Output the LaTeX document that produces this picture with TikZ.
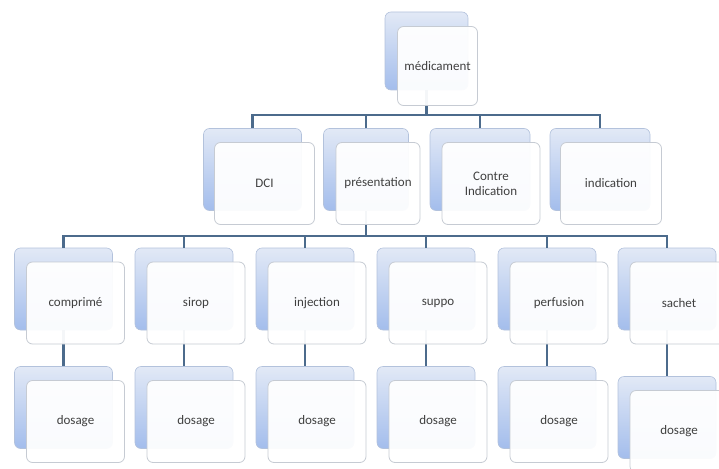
\documentclass[tikz,border=0pt]{standalone}
\usepackage{fontspec}
\setmainfont{Carlito}
\usepackage{tikz}
\usetikzlibrary{calc}
\definecolor{cardtop}{HTML}{E2E9F6}
\definecolor{cardbot}{HTML}{A3BDEC}
\definecolor{cardedge}{HTML}{B3C2DC}
\definecolor{cardline}{HTML}{C6CBD3}
\definecolor{linkblue}{HTML}{4C6B8C}
\definecolor{txt}{HTML}{404040}

\begin{document}
\begin{tikzpicture}[x=1pt,y=-1pt]
    \tikzset{back/.style={draw=cardedge, line width=0.6pt, top color=cardtop, bottom color=cardbot, rounded corners=6pt, minimum width=98pt, minimum height=82pt, inner sep=0pt},
    front/.style={draw=cardline, line width=0.8pt, fill=white, fill opacity=0.94, text opacity=1, rounded corners=6pt, minimum width=98pt, minimum height=82pt, inner sep=2pt, text=txt, font=\fontsize{13}{15}\selectfont, align=center},
    link/.style={draw=linkblue, line width=2.3pt}}
    
    \useasboundingbox (0,0) rectangle (719,468);
    
    \coordinate (med_c) at (426.5,51);
    \coordinate (dci_c) at (252.5,169.5);
    \coordinate (pre_c) at (366,169.5);
    \coordinate (ci_c) at (480,169.5);
    \coordinate (ind_c) at (600,169.5);
    \coordinate (com_c) at (63.5,289);
    \coordinate (sir_c) at (184,289);
    \coordinate (inj_c) at (305,289);
    \coordinate (sup_c) at (426,289);
    \coordinate (per_c) at (547,289);
    \coordinate (sac_c) at (667,289);
    \coordinate (bus_a) at (426.5,115);
    \coordinate (bus_b) at (366,236);
    
    %back cards
    \node[back,minimum width=83pt,minimum height=78pt] (med_b) at (med_c){};
    
    \node[back] (dci_b) at (dci_c){};
    \node[back,minimum width=85pt] (pre_b) at (pre_c){};
    \node[back,minimum width=100pt] (ci_b) at (ci_c){};
    \node[back,minimum width=100pt] (ind_b) at (ind_c){};
    
    \node[back] (com_b) at (com_c){};
    \node[back] (sir_b) at (sir_c){};
    \node[back] (inj_b) at (inj_c){};
    \node[back] (sup_b) at (sup_c){};
    \node[back] (per_b) at (per_c){};
    \node[back] (sac_b) at (sac_c){};
    
    \node[back] (dos1_b) at ($(com_c)+(0,118.5)$){};
    \node[back] (dos2_b) at ($(sir_c)+(0,118.5)$){};
    \node[back] (dos3_b) at ($(inj_c)+(0,118.5)$){};
    \node[back] (dos4_b) at ($(sup_c)+(0,118.5)$){};
    \node[back] (dos5_b) at ($(per_c)+(0,118.5)$){};
    \node[back] (dos6_b) at ($(sac_c)+(0,128.5)$){};
    
    %links
    \draw[link] (med_b.south) -- (bus_a);
    \draw[link] (dci_b.north) |- (bus_a) -| (ind_b.north);
    \draw[link] (pre_b.north) -- (pre_b.north |- bus_a);
    \draw[link] (ci_b.north) -- (ci_b.north |- bus_a);
    
    \draw[link] (pre_b.south) -- (bus_b);
    \draw[link] (com_b.north) |- (bus_b) -| (sac_b.north);
    \draw[link] (sir_b.north) -- (sir_b.north |- bus_b);
    \draw[link] (inj_b.north) -- (inj_b.north |- bus_b);
    \draw[link] (sup_b.north) -- (sup_b.north |- bus_b);
    \draw[link] (per_b.north) -- (per_b.north |- bus_b);
    
    \draw[link] (com_b.south) -- (dos1_b.north);
    \draw[link] (sir_b.south) -- (dos2_b.north);
    \draw[link] (inj_b.south) -- (dos3_b.north);
    \draw[link] (sup_b.south) -- (dos4_b.north);
    \draw[link] (per_b.south) -- (dos5_b.north);
    \draw[link] (sac_b.south) -- (dos6_b.north);
    
    %front cards
    \node[front,minimum width=80pt,minimum height=79pt] (med) at ($(med_c)+(11,15)$){médicament};
    
    \node[front,minimum width=100pt] (dci) at ($(dci_c)+(12,14)$){DCI};
    \node[front,minimum width=84pt] (pre) at ($(pre_c)+(12,14)$){présentation};
    \node[front,minimum width=98pt] (ci) at ($(ci_c)+(11,14)$){Contre\\Indication};
    \node[front,minimum width=101pt] (ind) at ($(ind_c)+(11,14)$){indication};
    
    \node[front] (com) at ($(com_c)+(12,14)$){comprimé};
    \node[front] (sir) at ($(sir_c)+(12,14)$){sirop};
    \node[front] (inj) at ($(inj_c)+(12,14)$){injection};
    \node[front] (sup) at ($(sup_c)+(12,14)$){suppo};
    \node[front] (per) at ($(per_c)+(12,14)$){perfusion};
    \node[front] (sac) at ($(sac_c)+(12,14)$){sachet};
    
    \node[front] (dos1) at ($(com_c)+(12,132.5)$){dosage};
    \node[front] (dos2) at ($(sir_c)+(12,132.5)$){dosage};
    \node[front] (dos3) at ($(inj_c)+(12,132.5)$){dosage};
    \node[front] (dos4) at ($(sup_c)+(12,132.5)$){dosage};
    \node[front] (dos5) at ($(per_c)+(12,132.5)$){dosage};
    \node[front] (dos6) at ($(sac_c)+(12,142.5)$){dosage};
\end{tikzpicture}
\end{document}
